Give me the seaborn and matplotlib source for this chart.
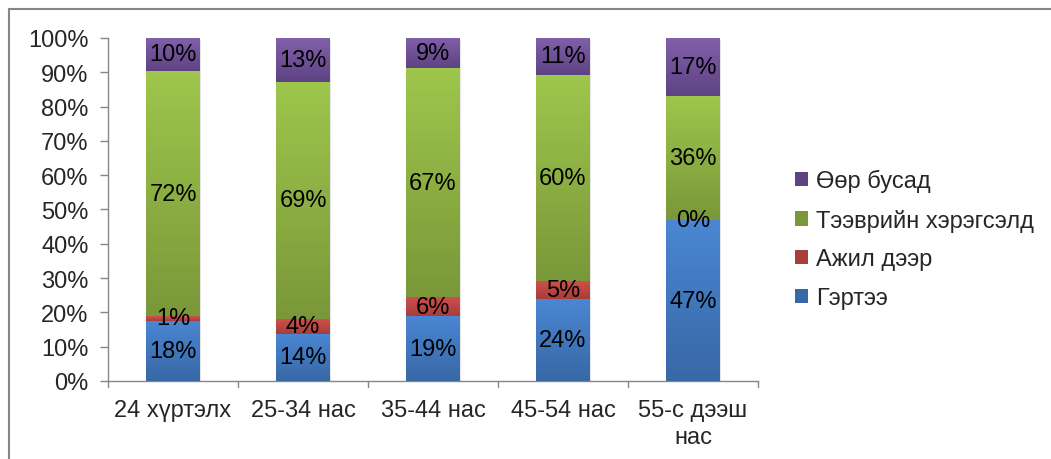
import numpy as np
import pandas as pd
import seaborn as sns
import matplotlib.pyplot as plt
from matplotlib.patches import Patch
from matplotlib.colors import LinearSegmentedColormap
from matplotlib.lines import Line2D

# Data (shares per age group, %)
categories = ["24 хүртэлх", "25-34 нас", "35-44 нас", "45-54 нас", "55-с дээш\nнас"]
series_names = ["Гэртээ", "Ажил дээр", "Тээврийн хэрэгсэлд", "Өөр бусад"]
home = [17.6, 13.7, 18.9, 23.8, 46.9]
work = [1.3, 4.4, 5.6, 5.4, 0.0]
vehicle = [71.5, 69.1, 66.6, 60.0, 36.2]
other = [9.6, 12.8, 8.9, 10.8, 16.9]

# gradient colours per series: (top, bottom)
grad = {
    "Гэртээ": ("#4A86D2", "#3868A6"),
    "Ажил дээр": ("#D0514D", "#A83D3A"),
    "Тээврийн хэрэгсэлд": ("#9EC64C", "#7A9839"),
    "Өөр бусад": ("#8160AA", "#5E4383"),
}
FS = 17

sns.set_style("white")
plt.rcParams["font.family"] = ["Liberation Sans", "DejaVu Sans"]

df = pd.DataFrame({"cat": categories, "Гэртээ": home, "Ажил дээр": work,
                   "Тээврийн хэрэгсэлд": vehicle, "Өөр бусад": other})
cum = df[series_names].cumsum(axis=1)

fig = plt.figure(figsize=(10.51, 4.6), dpi=100)
ax = fig.add_axes([0.1028, 0.1696, 0.6184, 0.7457])

# draw cumulative bars, tallest first
for name in reversed(series_names):
    sns.barplot(x=df["cat"], y=cum[name], color=grad[name][0], width=0.41,
                ax=ax, saturation=1, linewidth=0, zorder=2)

# positions of bars from the seaborn patches
bars = sorted(ax.patches, key=lambda p: p.get_x())
xs = sorted({round(p.get_x(), 6) for p in bars})
w = bars[0].get_width()

# shadow + gradient segments
for i, x0 in enumerate(xs):
    total = cum.iloc[i][series_names[-1]]
    ax.add_patch(plt.Rectangle((x0 + 0.012, -0.6), w, total, color="#000000",
                               alpha=0.10, lw=0, zorder=1.5))
    bottom = 0
    for name in series_names:
        top = cum.iloc[i][name]
        if top - bottom > 0:
            cmap = LinearSegmentedColormap.from_list("g", [grad[name][1], grad[name][0]])
            g = np.linspace(0, 1, 64).reshape(-1, 1)
            ax.imshow(g, cmap=cmap, aspect="auto", origin="lower",
                      extent=(x0, x0 + w, bottom, top), zorder=3)
        val = df.iloc[i][name]
        ax.text(x0 + w / 2, (bottom + top) / 2, f"{val:.0f}%", ha="center",
                va="center", fontsize=FS, color="black", zorder=5)
        bottom = top

ax.set_xlim(-0.5, len(categories) - 0.5)
ax.set_ylim(0, 100)
ax.set_yticks(np.arange(0, 101, 10))
ax.set_yticklabels([f"{v}%" for v in range(0, 101, 10)], fontsize=FS)
ax.set_xticks(range(len(categories)))
ax.set_xticklabels(categories, fontsize=FS, linespacing=1.3)
ax.set_xlabel("")
ax.set_ylabel("")
ax.tick_params(axis="x", length=0, pad=13)
ax.tick_params(axis="y", length=6, width=1, color="#868686", left=True, pad=8)

for s in ["top", "right"]:
    ax.spines[s].set_visible(False)
for s in ["left", "bottom"]:
    ax.spines[s].set_color("#868686")
    ax.spines[s].set_linewidth(1)

# category separator ticks on x axis
for b in np.arange(-0.5, len(categories), 1.0):
    ax.plot([b, b], [0, -1.8], color="#868686", lw=1, clip_on=False, zorder=1)

# legend
handles = [Patch(facecolor=grad[n][1], edgecolor="none") for n in reversed(series_names)]
fig.legend(handles, list(reversed(series_names)), loc="center left",
           bbox_to_anchor=(0.736, 0.478), frameon=False, fontsize=FS,
           handlelength=0.55, handleheight=0.55, handletextpad=0.35,
           labelspacing=0.7)

# outer chart border (left and top)
fig.add_artist(Line2D([8.5 / 1051, 8.5 / 1051], [0, 1 - 10 / 460], color="#868686", lw=1.5))
fig.add_artist(Line2D([8.5 / 1051, 1], [1 - 10 / 460, 1 - 10 / 460], color="#868686", lw=1.5))

fig.savefig("out.png", dpi=100)
